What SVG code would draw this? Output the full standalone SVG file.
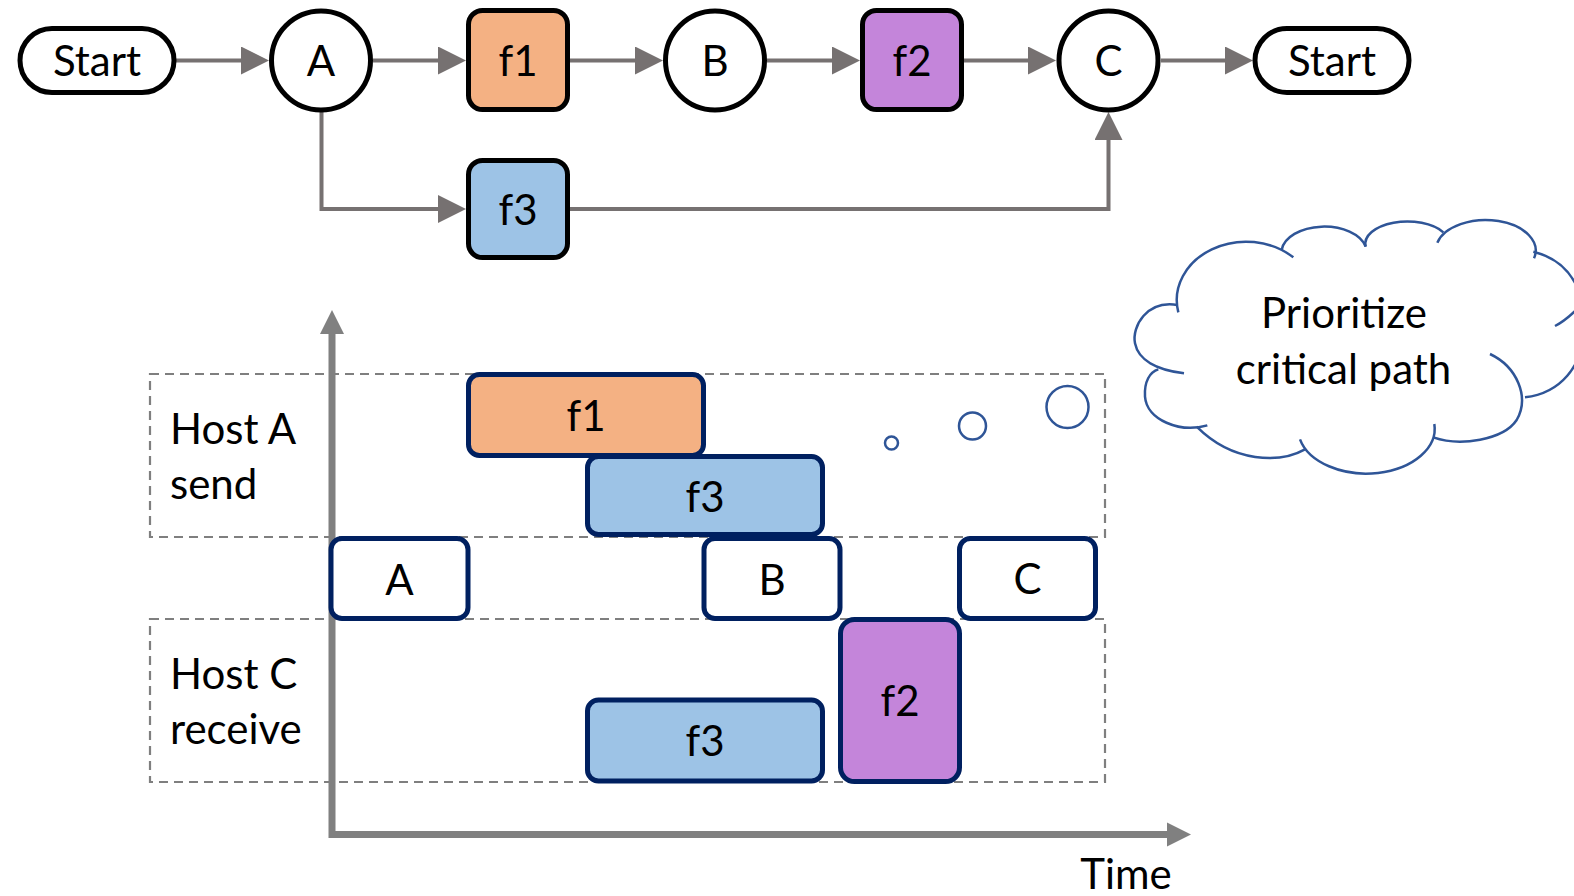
<svg xmlns="http://www.w3.org/2000/svg" width="1574" height="896" viewBox="0 0 1574 896">
<defs>
<marker id="arr" markerUnits="userSpaceOnUse" markerWidth="28" markerHeight="28" refX="2" refY="14" orient="auto" viewBox="0 0 28 28"><path d="M0,0 L28,14 L0,28 z" fill="#767171"/></marker>
</defs>
<style>
text{font-family:Lato,"Liberation Sans",sans-serif;font-size:42px;fill:#000}
.c{text-anchor:middle}
.node{stroke:#000;stroke-width:5}
.conn{fill:none;stroke:#767171;stroke-width:4;stroke-linejoin:miter;marker-end:url(#arr)}
.tl{stroke:#002060;stroke-width:5}
.dash{fill:none;stroke:#7F7F7F;stroke-width:2.2;stroke-dasharray:9 6}
.axis{fill:none;stroke:#808080;stroke-width:7;stroke-linejoin:miter}
.cloud{fill:none;stroke:#2F5597;stroke-width:7.5}
.bub{fill:none;stroke:#2F5597;stroke-width:2.5}
</style>
<rect width="1574" height="896" fill="#fff"/>

<g id="connectors">
<path class="conn" d="M176 60.5 H243"/>
<path class="conn" d="M373 60.5 H440"/>
<path class="conn" d="M570 60.5 H637"/>
<path class="conn" d="M767 60.5 H834"/>
<path class="conn" d="M964 60.5 H1030"/>
<path class="conn" d="M1161 60.5 H1227"/>
<path class="conn" d="M321.5 112 V209 H440"/>
<path class="conn" d="M570 209 H1108.5 V138"/>
</g>

<g id="start1"><rect class="node" x="20" y="28.5" width="154" height="64" rx="32" fill="#fff"/><text class="c" x="97" y="76">Start</text></g>
<g id="nodeA"><circle class="node" cx="321" cy="60.5" r="49.5" fill="#fff"/><text class="c" x="321" y="76">A</text></g>
<g id="f1top"><rect class="node" x="468.5" y="10.5" width="99" height="99" rx="14" fill="#F4B183"/><text class="c" x="518" y="76">f1</text></g>
<g id="nodeB"><circle class="node" cx="715" cy="60.5" r="49.5" fill="#fff"/><text class="c" x="715" y="76">B</text></g>
<g id="f2top"><rect class="node" x="862.5" y="10.5" width="99" height="99" rx="14" fill="#C485DA"/><text class="c" x="912" y="76">f2</text></g>
<g id="nodeC"><circle class="node" cx="1108.5" cy="60.5" r="49.5" fill="#fff"/><text class="c" x="1108.5" y="76">C</text></g>
<g id="start2"><rect class="node" x="1255" y="28.5" width="154" height="64" rx="32" fill="#fff"/><text class="c" x="1332" y="76">Start</text></g>
<g id="f3top"><rect class="node" x="468.5" y="160.5" width="99" height="97" rx="14" fill="#9DC3E6"/><text class="c" x="518" y="225">f3</text></g>

<g id="lanes">
<rect class="dash" x="150" y="374" width="955" height="163"/>
<rect class="dash" x="150" y="619" width="955" height="163"/>
<text x="170" y="444">Host A</text>
<text x="170" y="499">send</text>
<text x="170" y="689">Host C</text>
<text x="170" y="744">receive</text>
</g>

<g id="axes">
<path class="axis" d="M332 333 V834.5 H1167"/>
<polygon points="332,310 320,334 344,334" fill="#808080"/>
<polygon points="1191,834.5 1167,822.5 1167,846.5" fill="#808080"/>
<text class="c" x="1126" y="889">Time</text>
</g>

<g id="tA"><rect class="tl" x="331" y="538.5" width="137" height="80" rx="11" fill="#fff"/><text class="c" x="399.5" y="595">A</text></g>
<g id="tB"><rect class="tl" x="704" y="538.5" width="136" height="80" rx="11" fill="#fff"/><text class="c" x="772" y="594.5">B</text></g>
<g id="tC"><rect class="tl" x="959.5" y="538.5" width="136" height="80" rx="11" fill="#fff"/><text class="c" x="1027.5" y="594">C</text></g>
<g id="tf1"><rect class="tl" x="468.5" y="374.5" width="235" height="81" rx="11" fill="#F4B183"/><text class="c" x="586" y="431">f1</text></g>
<g id="tf3a"><rect class="tl" x="587.5" y="456.5" width="235" height="78" rx="11" fill="#9DC3E6"/><text class="c" x="705" y="512">f3</text></g>
<g id="tf2"><rect class="tl" x="840.5" y="619.5" width="119" height="162" rx="14" fill="#C485DA"/><text class="c" x="900" y="716">f2</text></g>
<g id="tf3c"><rect class="tl" x="587.5" y="700" width="235" height="81" rx="11" fill="#9DC3E6"/><text class="c" x="705" y="756">f3</text></g>

<g id="thought">
<circle class="bub" cx="891.5" cy="443" r="6.5"/>
<circle class="bub" cx="972.5" cy="426" r="13.5"/>
<circle class="bub" cx="1067.5" cy="407" r="21"/>
<g transform="translate(1100 200) scale(0.333333)">
<path class="cloud" d="M232 315 C140 300 95 380 105 430 C115 480 170 510 252 520"/>
<path class="cloud" d="M235 337 A208 175 0 0 1 580 172"/>
<path class="cloud" d="M545 150 A128 78 0 0 1 797 140"/>
<path class="cloud" d="M797 140 A126 67 0 0 1 1030 97"/>
<path class="cloud" d="M1012 128 A148 90 0 1 1 1302 175"/>
<path class="cloud" d="M1300 155 C1380 175 1450 230 1455 380"/>
<path class="cloud" d="M1440 318 Q1400 360 1365 378"/>
<path class="cloud" d="M1455 380 C1450 500 1380 580 1275 592"/>
<path class="cloud" d="M1170 462 C1250 500 1290 590 1250 660 C1210 720 1080 740 1000 712"/>
<path class="cloud" d="M1003 672 A205 135 0 0 1 600 718"/>
<path class="cloud" d="M615 748 C540 790 400 790 290 680"/>
<path class="cloud" d="M322 676 C240 700 140 660 135 590 C132 545 150 515 175 508"/>
</g>
<text class="c" x="1344" y="328">Prioritize</text>
<text class="c" x="1343.5" y="384">critical path</text>
</g>
</svg>
